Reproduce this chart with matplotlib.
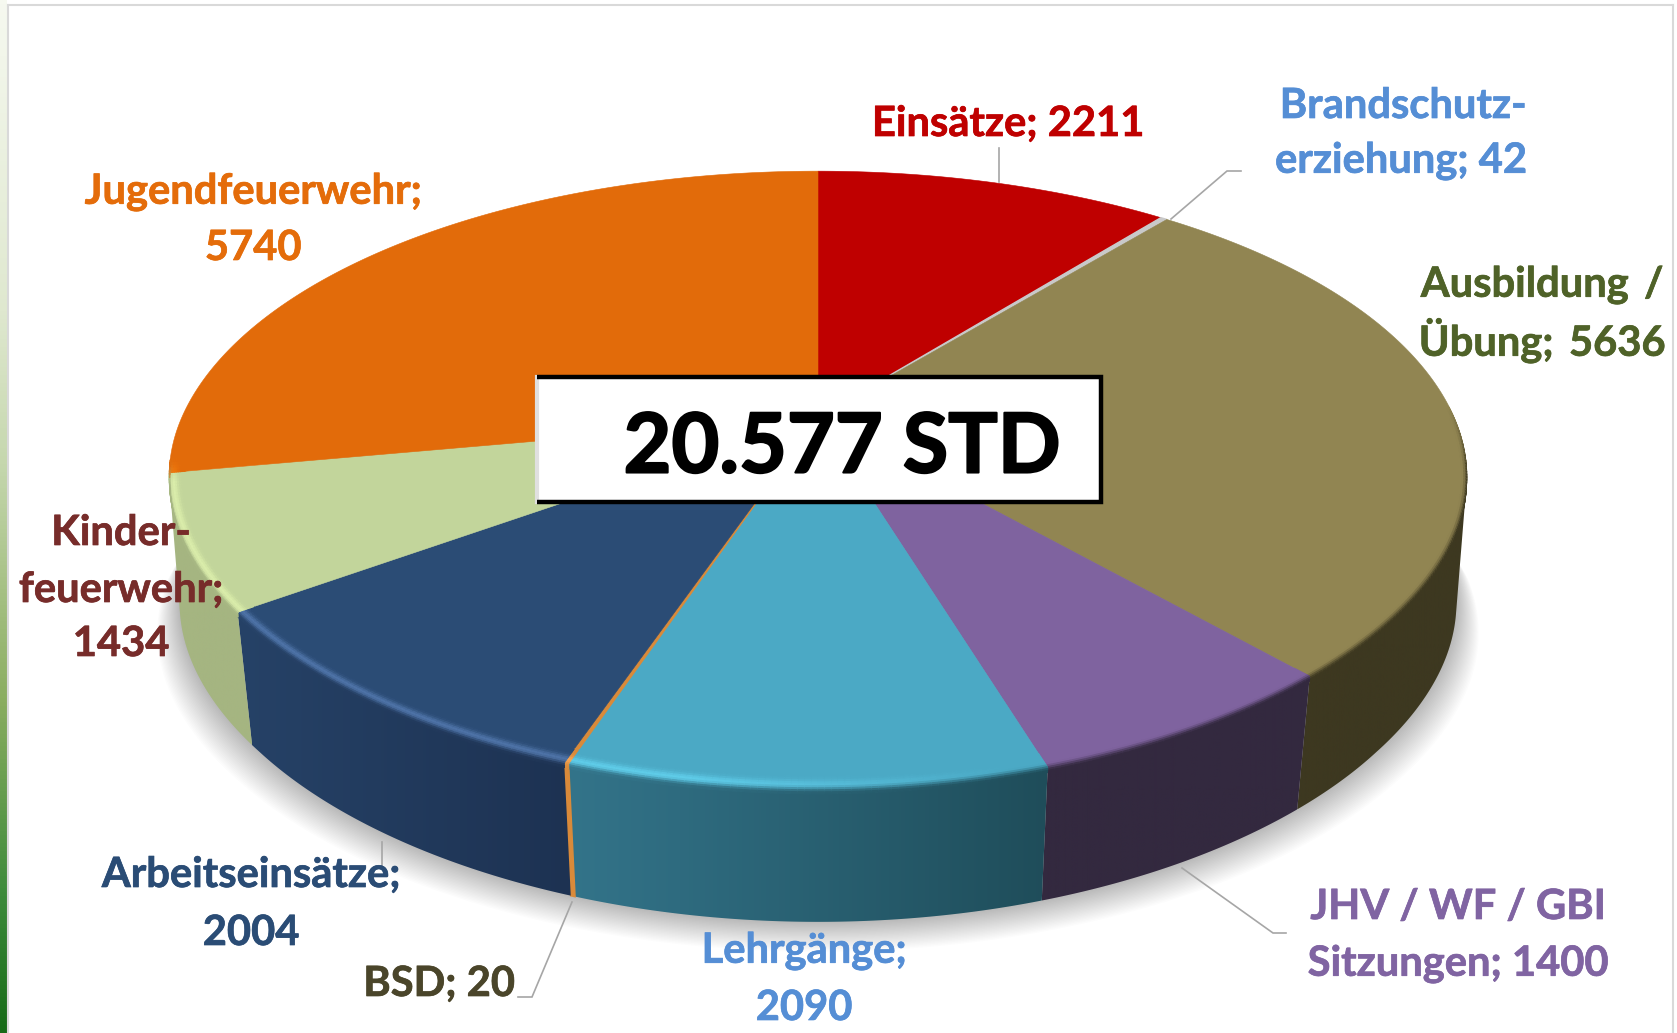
import numpy as np
import matplotlib
matplotlib.use('Agg')
import matplotlib.pyplot as plt
import matplotlib.patheffects as pe
from matplotlib.collections import PolyCollection
from matplotlib.colors import LinearSegmentedColormap, to_rgb
from matplotlib.patches import Polygon, Rectangle

plt.rcParams['font.family'] = ['Lato', 'DejaVu Sans']

# clockwise from 12 o'clock
names = ['Einsätze', 'Brandschutzerziehung', 'Ausbildung / Übung', 'JHV / WF / GBI Sitzungen',
         'Lehrgänge', 'BSD', 'Arbeitseinsätze', 'Kinderfeuerwehr', 'Jugendfeuerwehr']
hours = [2211, 42, 5636, 1400, 2090, 20, 2004, 1434, 5740]
total_label = '20.577 STD'

top_colors = ['#bf0000', '#c9c9c9', '#918552', '#7f639f', '#4ba9c5', '#d98a3a', '#2b4c75', '#c2d59b', '#e26b0a']
wall_right = ['#8f0000', '#999999', '#3d3820', '#33293f', '#1f4d5a', '#d98a3a', '#1d3252', '#a5b581', '#a5b581']
wall_left = ['#8f0000', '#999999', '#3d3820', '#33293f', '#33748a', '#d98a3a', '#264267', '#a5b581', '#a5b581']
glow_colors = ['#ffffff', '#ffffff', '#ffffff', '#ffffff', '#66d8f5', '#ffb060', '#5a80b8', '#e2f5b0', '#ff8a10']

# label text, centre x, centre y, colour
labels = [
    ('Einsätze; 2211', 1008, 124, '#bf0000'),
    ('Brandschutz-', 1403, 106, '#558ed5'),
    ('erziehung; 42', 1401, 161, '#558ed5'),
    ('Ausbildung \u2009/', 1542, 285, '#4f6228'),
    ('Übung; \u20095636', 1542, 340, '#4f6228'),
    ('JHV / WF / GBI', 1458, 907, '#8064a2'),
    ('Sitzungen; 1400', 1458, 964, '#8064a2'),
    ('Lehrgänge;', 804, 951, '#558ed5'),
    ('2090', 804, 1008, '#558ed5'),
    ('BSD; 20', 439, 984, '#4a452a'),
    ('Arbeitseinsätze;', 251, 875, '#2a4c75'),
    ('2004', 251, 933, '#2a4c75'),
    ('Kinder-', 121, 533, '#772c2a'),
    ('feuerwehr;', 121, 590, '#772c2a'),
    ('1434', 121, 644, '#772c2a'),
    ('Jugendfeuerwehr;', 253, 192, '#e46c0a'),
    ('5740', 253, 248, '#e46c0a'),
]
leaders = [
    ([999, 999], [148, 182]),
    ([1171, 1227, 1241], [219, 171, 171]),
    ([1182, 1273, 1286], [868, 933, 933]),
    ([572, 532, 518], [902, 997, 997]),
    ([382, 382], [842, 868]),
]

W, H = 1677, 1033
fig = plt.figure(figsize=(W / 100, H / 100), dpi=100, facecolor='white')
ax = fig.add_axes([0, 0, 1, 1])

# perspective disc
cx, cy = 818, 417
a, b, k = 636, 296, 0.204
wall_dy = 133


def rim(theta, dy=0.0, grow=0.0):
    u, v = np.sin(theta), np.cos(theta)
    w = 1 + k * v
    squeeze = 1 - 0.035 * np.minimum(v, 0) ** 2
    return cx + a * (squeeze + grow) * u / w, cy - b * v / w + dy


def low_rim(theta, grow=0.0, extra=0.0):
    # lower edge of the wall, a bit narrower towards the front
    v = np.cos(theta)
    return rim(theta, wall_dy + extra, grow - 0.012 - 0.013 * np.minimum(np.abs(v) / 0.6, 1))


def mix(c1, c2, t):
    return (1 - t) * np.array(to_rgb(c1)) + t * np.array(to_rgb(c2))


def band_point(theta, d):
    # d < 0 walks inwards along the slice edge, d > 0 walks down the wall
    x, y = rim(theta)
    if d < 0:
        f = 1 + d / np.hypot(x - cx, y - cy)
        return cx + f * (x - cx), cy + f * (y - cy)
    x2, y2 = low_rim(theta)
    f = d / wall_dy
    return x + f * (x2 - x), y + f * (y2 - y)


# left strip
strip = LinearSegmentedColormap.from_list('strip', [(0, '#f6f9f0'), (0.3, '#dfe8cf'), (0.45, '#c5d7ad'),
                                                    (0.68, '#8aad60'), (0.87, '#3c8a3a'), (1, '#176b17')])
ax.imshow(np.linspace(0, 1, 256).reshape(-1, 1), cmap=strip, extent=(0, 7, H, 0), aspect='auto', zorder=1)
ax.plot([8, 8], [5, H], color='#d9d9d9', lw=1.5, zorder=2)
ax.plot([8, W - 4], [5, 5], color='#d9d9d9', lw=1.5, zorder=2)
ax.plot([W - 4, W - 4], [5, H], color='#d9d9d9', lw=1.5, zorder=2)

# soft shadow under the pie
th = np.linspace(0, 2 * np.pi, 361)
for i in range(24):
    x, y = low_rim(th, 0.0015 * i, 1.3 * i)
    ax.add_patch(Polygon(np.c_[x, y], closed=True, fc='black', ec='none', alpha=0.010, zorder=3))

edges = np.radians(np.r_[0, np.cumsum(hours)] / np.sum(hours) * 360)

# side wall, only the part below the widest points of the disc shows
for i in range(len(hours)):
    tt = np.linspace(edges[i], edges[i + 1], 300)
    tt = tt[np.cos(tt) < -k]
    if len(tt) < 2:
        continue
    x1, y1 = rim(tt)
    x2, y2 = low_rim(tt[::-1])
    pts = np.r_[np.c_[x1, y1], np.c_[x2, y2]]
    if hours[i] < 100:
        ax.add_patch(Polygon(pts, closed=True, fc=top_colors[i], ec=top_colors[i], lw=1.2, zorder=4))
        continue
    grad = np.array([mix(wall_left[i], wall_right[i], t) for t in np.linspace(0, 1, 256)]).reshape(1, 256, 3)
    im = ax.imshow(grad, extent=(pts[:, 0].min(), pts[:, 0].max(), pts[:, 1].max(), pts[:, 1].min()),
                   aspect='auto', zorder=4)
    im.set_clip_path(Polygon(pts, closed=True, transform=ax.transData))

# top surface
for i in range(len(hours)):
    tt = np.linspace(edges[i], edges[i + 1], 200)
    x, y = rim(tt)
    thin = hours[i] < 100
    ax.add_patch(Polygon(np.r_[[[cx, cy]], np.c_[x, y]], closed=True, fc=top_colors[i], ec=top_colors[i],
                         lw=1.0 if thin else 0.4, zorder=5))

# rounded edge between top and wall
band = np.linspace(-17, 5, 12)
for i in range(len(hours)):
    tt = np.linspace(edges[i], edges[i + 1], max(2, int(np.degrees(edges[i + 1] - edges[i]) / 0.5) + 1))
    quads, cols = [], []
    for j in range(len(tt) - 1):
        mid = (tt[j] + tt[j + 1]) / 2
        deg = np.degrees(mid)
        if deg < 88 or deg > 262:
            continue
        wall = mix(wall_right[i], wall_left[i], (mid - edges[i]) / (edges[i + 1] - edges[i]))
        glow = np.clip((deg - 165) / 25, 0, 1) * 0.75
        fade = np.clip((deg - 88) / 12, 0, 1) * np.clip((262 - deg) / 4, 0, 1)
        for n in range(len(band) - 1):
            t = (n + 0.5) / (len(band) - 1)
            quads.append([band_point(tt[j], band[n]), band_point(tt[j + 1], band[n]),
                          band_point(tt[j + 1], band[n + 1]), band_point(tt[j], band[n + 1])])
            s = np.clip((t - 0.55) / 0.4, 0, 1)
            c = mix(top_colors[i], wall, (s * s * (3 - 2 * s)) * fade)
            g = glow * fade * np.exp(-((t - 0.6) / 0.2) ** 2)
            cols.append(tuple((1 - g) * c + g * np.array(to_rgb(glow_colors[i]))))
    if quads:
        ax.add_collection(PolyCollection(quads, facecolors=cols, edgecolors=cols, linewidths=0.8, zorder=6))

for x, y in leaders:
    ax.plot(x, y, color='#a6a6a6', lw=1.2, zorder=7, solid_joinstyle='miter')

for txt, x, y, col in labels:
    t = ax.text(x, y, txt, color=col, fontsize=30, fontweight='bold', ha='center', va='center', zorder=8)
    t.set_path_effects([pe.withStroke(linewidth=0.5, foreground=col)])

# total box
ax.add_patch(Rectangle((537, 377), 564, 125, fc='white', ec='none', zorder=9))
ax.plot([537, 537], [377, 502], color='#e0e0e0', lw=3, zorder=10)
ax.plot([537, 1101, 1101, 537], [377, 377, 502, 502], color='black', lw=3.2, zorder=11,
        solid_capstyle='butt', solid_joinstyle='miter')
t = ax.text(842, 449, total_label, color='black', fontsize=59.5, fontweight='bold', ha='center', va='center', zorder=12)
t.set_path_effects([pe.withStroke(linewidth=1.5, foreground='black')])

ax.set_xlim(0, W)
ax.set_ylim(H, 0)
ax.axis('off')
fig.savefig('out.png', dpi=100, facecolor='white')
